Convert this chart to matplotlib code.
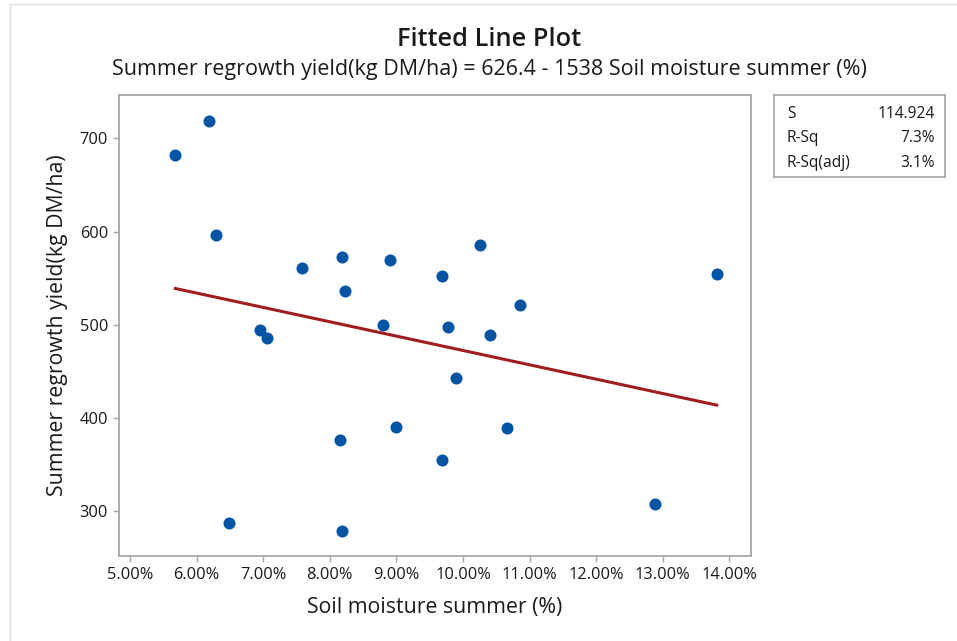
import numpy as np
import matplotlib.pyplot as plt
from matplotlib.lines import Line2D
from matplotlib.ticker import FuncFormatter

# Datos
soil_moisture = [5.68, 6.18, 6.29, 6.48, 6.95, 7.05, 7.58, 8.18, 8.23, 8.18,
                 8.15, 9.00, 8.90, 8.80, 9.68, 9.78, 9.90, 9.68, 10.26,
                 10.86, 10.40, 10.66, 12.89, 13.81]
regrowth_yield = [682, 718, 596, 288, 494, 486, 561, 573, 536, 279,
                  377, 391, 570, 500, 552, 498, 443, 355, 586,
                  521, 489, 389, 308, 555]

intercept = 626.4
slope = -1538
stats_labels = ["S", "R-Sq", "R-Sq(adj)"]
stats_values = ["114.924", "7.3%", "3.1%"]

x_ticks = np.arange(5, 15, 1)
y_ticks = [300, 400, 500, 600, 700]

plt.rcParams['font.family'] = ['Open Sans', 'DejaVu Sans']

W, H = 957, 641
fig = plt.figure(figsize=(W / 100, H / 100), dpi=100)

# borde de la captura
fig.add_artist(Line2D([10 / W, 1], [1 - 4 / H, 1 - 4 / H], color='#e0e0e0', lw=1))
fig.add_artist(Line2D([10 / W, 10 / W], [0, 1 - 4 / H], color='#e0e0e0', lw=1))

ax = fig.add_axes([119 / W, 1 - 556 / H, (751 - 119) / W, (556 - 95) / H])

x = np.array(soil_moisture)
y = np.array(regrowth_yield)
ax.scatter(x, y, s=75, color='#0054A6', zorder=3, linewidths=0)

# recta ajustada (coeficientes del titulo)
xf = np.array([x.min(), x.max()])
ax.plot(xf, intercept + slope * xf / 100, color='#A11D1D', lw=2.2, zorder=2)

ax.set_xlim(4.835, 14.325)
ax.set_ylim(252.3, 746.4)
ax.set_xticks(x_ticks)
ax.set_yticks(y_ticks)
ax.xaxis.set_major_formatter(FuncFormatter(lambda v, p: f"{v:.2f}%"))

for sp in ax.spines.values():
    sp.set_color('#a6a6a6')
    sp.set_linewidth(1.3)
ax.tick_params(direction='out', length=4, width=1, color='#a6a6a6',
               labelsize=11.8, labelcolor='#1a1a1a', pad=4)

ax.set_xlabel("Soil moisture summer (%)", fontsize=15.3, color='#1a1a1a')
ax.set_ylabel("Summer regrowth yield(kg DM/ha)", fontsize=15.3, color='#1a1a1a')
ax.xaxis.set_label_coords(0.5, (556 - 608) / 461)
ax.yaxis.set_label_coords((58 - 119) / 632, 0.5)
ax.xaxis.label.set_va('center')
ax.yaxis.label.set_va('center')

fig.text(489 / W, 1 - 39 / H, "Fitted Line Plot", ha='center', va='center',
         fontsize=18.3, fontweight='semibold', color='#1a1a1a')
fig.text(489 / W, 1 - 70 / H,
         "Summer regrowth yield(kg DM/ha) = 626.4 - 1538 Soil moisture summer (%)",
         ha='center', va='center', fontsize=15.5, color='#1a1a1a')

# cuadro de estadisticas
box = fig.add_axes([774 / W, 1 - 177 / H, (945 - 774) / W, (177 - 95) / H])
box.set_xticks([])
box.set_yticks([])
for sp in box.spines.values():
    sp.set_color('#a6a6a6')
    sp.set_linewidth(1.2)
for i, (lab, val) in enumerate(zip(stats_labels, stats_values)):
    yy = 1 - (19 + i * 24.5) / 82
    box.text(13 / 171, yy, lab, transform=box.transAxes, ha='left', va='center',
             fontsize=11.2, color='#1a1a1a')
    box.text(161 / 171, yy, val, transform=box.transAxes, ha='right', va='center',
             fontsize=11.2, color='#1a1a1a')

fig.savefig("out.png", dpi=100)
